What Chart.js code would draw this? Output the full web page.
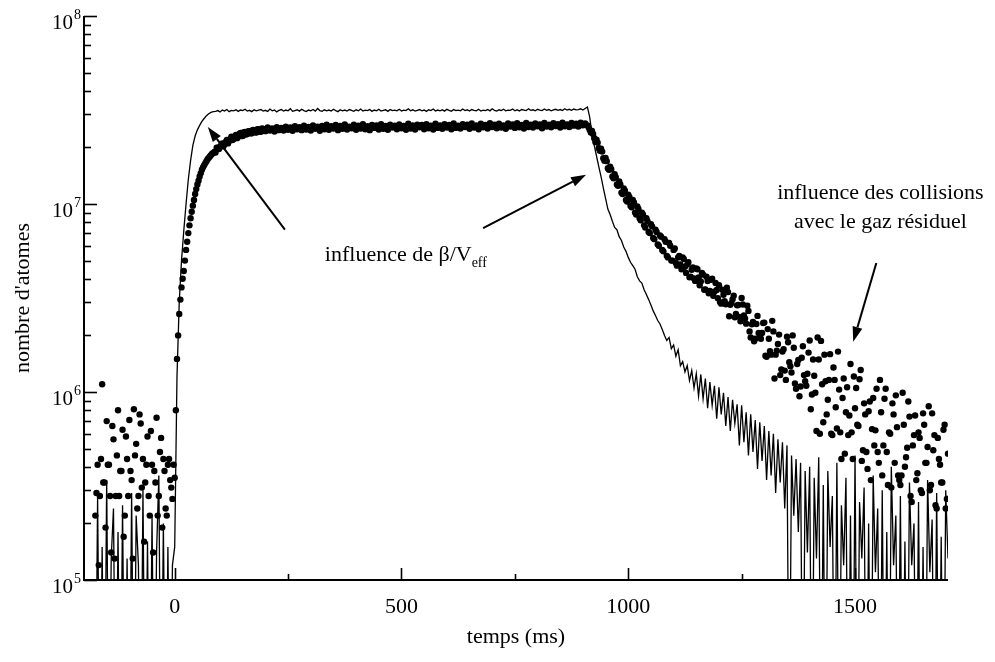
<!DOCTYPE html>
<html>
<head>
<meta charset="utf-8">
<script src="https://cdn.jsdelivr.net/npm/chart.js@4.4.0/dist/chart.umd.min.js"></script>
<style>
    html, body { margin: 0; padding: 0; background: #fff; }
    #wrap { width: 995px; height: 662px; }
</style>
</head>
<body>
<div id="wrap"><canvas id="myChart" width="995" height="662"></canvas></div>
<script>
// sampling of the recorded curves (ms)
const firstTime = -175;
const timeStep = 5;

// solid line, one value every 5 ms from -175 ms (1e4 = nothing counted, below the axis)
const lineValues = [
    1e4, 2.8e5, 1e4, 1.5e5, 1e4, 3.4e5, 1e4, 1.3e5, 2.4e5, 1e4, 1.8e5, 1e4, 2.5e5, 1e4, 1.3e5, 1e4, 2.9e5, 1e4, 2.2e5, 1.2e5,
    1e4, 3e5, 1e4, 1.6e5, 1e4, 2.2e5, 1e4, 1.4e5, 3.6e5, 1e4, 2e5, 1e4, 1.5e5, 1e4, 1.2e5,
    1.5e5, 12e5, 30e5, 50e5, 72e5, 100e5, 135e5, 170e5, 205e5, 230e5, 248e5, 262e5, 275e5, 285e5, 295e5, 302e5, 307e5, 310e5,
    311e5, 314e5, 309e5, 316e5, 312e5, 318e5, 310e5, 315e5, 313e5, 317e5,
    311e5, 316e5, 314e5, 319e5, 312e5, 315e5, 310e5, 317e5, 313e5, 316e5,
    318e5, 312e5, 315e5, 311e5, 320e5, 313e5, 316e5, 309e5, 315e5, 318e5,
    312e5, 316e5, 313e5, 321e5, 311e5, 314e5, 317e5, 312e5, 319e5, 314e5,
    310e5, 316e5, 313e5, 318e5, 312e5, 322e5, 314e5, 311e5, 317e5, 313e5,
    316e5, 312e5, 319e5, 314e5, 310e5, 317e5, 313e5, 316e5, 312e5, 318e5,
    315e5, 311e5, 317e5, 313e5, 320e5, 312e5, 316e5, 314e5, 318e5, 311e5,
    316e5, 313e5, 319e5, 312e5, 315e5, 317e5, 311e5, 318e5, 314e5, 316e5,
    313e5, 319e5, 312e5, 316e5, 314e5, 321e5, 313e5, 317e5, 312e5, 315e5,
    318e5, 313e5, 316e5, 311e5, 317e5, 314e5, 320e5, 312e5, 316e5, 313e5,
    317e5, 312e5, 319e5, 315e5, 311e5, 318e5, 314e5, 316e5, 313e5, 320e5,
    314e5, 317e5, 312e5, 318e5, 315e5, 313e5, 319e5, 312e5, 316e5, 314e5,
    318e5, 313e5, 321e5, 315e5, 312e5, 317e5, 314e5, 319e5, 313e5, 316e5,
    315e5, 320e5, 313e5, 317e5, 312e5, 318e5, 316e5, 314e5, 321e5, 315e5,
    317e5, 313e5, 319e5, 316e5, 314e5, 320e5, 315e5, 318e5, 313e5, 317e5,
    319e5, 315e5, 318e5, 314e5, 321e5, 316e5, 319e5, 315e5, 320e5, 317e5,
    318e5, 321e5, 316e5, 322e5,
    328e5, 290e5, 235e5, 205e5, 180e5, 158e5, 140e5, 122e5, 107e5, 94e5,
    88e5, 81e5, 75e5, 73e5, 67e5, 64e5, 59e5, 56e5, 52e5, 49e5,
    47e5, 45e5, 41e5, 39e5, 38e5, 35e5, 33e5, 31e5, 29e5, 27e5,
    25.5e5, 24e5,
    23e5, 21.5e5, 20e5, 18.8e5, 19.5e5, 17e5, 17.8e5, 15.5e5, 16.8e5, 13.8e5,
    14.5e5, 12.8e5, 13.8e5, 11.5e5, 13e5, 10.5e5, 12.5e5, 9.5e5, 12.4e5, 9.2e5,
    11.8e5, 8.2e5, 11.3e5, 8.5e5, 10.8e5, 7.2e5, 10.6e5, 7.6e5, 9.9e5, 6.6e5,
    9.4e5, 6.2e5, 9.1e5, 6.8e5, 8.6e5, 5.2e5, 8.5e5, 5.4e5, 7.8e5, 4.6e5,
    7.6e5, 4.8e5, 7.1e5, 3.9e5, 6.9e5, 4.3e5, 6.6e5, 3.4e5, 6.2e5, 3.6e5,
    6e5, 2.9e5, 5.6e5, 3.3e5, 5.4e5, 2.4e5, 5.2e5, 1e4, 4.6e5, 2.2e5,
    4.4e5, 1.8e5, 4.2e5, 1e4, 3.8e5,
    1.4e5, 4e5, 1e4, 3.5e5, 1.3e5, 4.5e5, 1e4, 3.2e5, 1e4, 3.8e5,
    1.5e5, 2.8e5, 1e4, 4.2e5, 1e4, 2.5e5, 1.2e5, 3.5e5, 1e4, 2.2e5,
    1e4, 4.6e5, 1e4, 2.6e5, 1.3e5, 3.1e5, 1e4, 2e5, 1e4, 3.6e5,
    1.1e5, 2.4e5, 1e4, 3e5, 1e4, 1.8e5, 1e4, 4e5, 1.2e5, 2.2e5,
    1e4, 2.8e5, 1e4, 1.6e5, 1e4, 3.3e5, 1.2e5, 2e5, 1e4, 2.6e5,
    1e4, 1.5e5, 1e4, 3.4e5, 1.1e5, 2.1e5, 1e4, 2.9e5, 1e4, 1.7e5,
    1e4, 3e5, 1.3e5
];

// dots, same 5 ms sampling
const dotValues = [
    2.2e5, 4.1e5, 2.8e5, 11e5, 3.3e5, 7e5, 4.1e5, 1.4e5, 5.6e5, 2.8e5,
    8e5, 3.8e5, 6.3e5, 2.2e5, 4.4e5, 7.1e5, 3.4e5, 8.1e5, 5.3e5, 2.8e5,
    6.8e5, 4.4e5, 3.3e5, 5.8e5, 2.2e5, 4.1e5, 3.8e5, 7.3e5, 2.8e5, 5.7e5,
    4.4e5, 2.4e5, 4.1e5, 3.4e5, 2.7e5,
    3.5e5, 15e5, 26e5, 36e5, 44e5, 57e5, 70e5, 84e5, 98e5, 113e5, 127e5, 140e5, 152e5, 161e5, 169e5, 176e5, 182e5, 187e5,
    188e5, 199e5, 201e5, 210e5, 208e5, 219e5, 216e5, 228e5, 222e5, 233e5,
    228e5, 239e5, 230e5, 242e5, 236e5, 244e5, 238e5, 247e5, 240e5, 249e5,
    242e5, 251e5, 244e5, 255e5, 246e5, 252e5, 243e5, 256e5, 247e5, 254e5,
    246e5, 258e5, 248e5, 255e5, 245e5, 259e5, 250e5, 256e5, 247e5, 261e5,
    249e5, 257e5, 246e5, 262e5, 251e5, 258e5, 245e5, 260e5, 250e5, 264e5,
    248e5, 259e5, 252e5, 263e5, 247e5, 260e5, 251e5, 265e5, 249e5, 258e5,
    253e5, 264e5, 248e5, 261e5, 252e5, 266e5, 250e5, 259e5, 247e5, 263e5,
    254e5, 262e5, 249e5, 266e5, 251e5, 260e5, 248e5, 264e5, 255e5, 261e5,
    250e5, 265e5, 253e5, 260e5, 248e5, 267e5, 252e5, 262e5, 249e5, 264e5,
    256e5, 263e5, 250e5, 266e5, 253e5, 261e5, 249e5, 267e5, 254e5, 262e5,
    251e5, 266e5, 255e5, 263e5, 250e5, 268e5, 254e5, 261e5, 252e5, 266e5,
    257e5, 264e5, 251e5, 268e5, 255e5, 262e5, 250e5, 267e5, 256e5, 263e5,
    252e5, 269e5, 257e5, 264e5, 253e5, 267e5, 255e5, 262e5, 251e5, 268e5,
    258e5, 265e5, 254e5, 269e5, 256e5, 263e5, 252e5, 270e5, 257e5, 264e5,
    255e5, 268e5, 259e5, 265e5, 253e5, 270e5, 258e5, 264e5, 256e5, 269e5,
    260e5, 266e5, 255e5, 271e5, 259e5, 265e5, 257e5, 270e5, 261e5, 267e5,
    258e5, 271e5, 262e5, 268e5,
    262e5, 248e5, 245e5, 224e5, 220e5, 198e5, 197e5, 175e5, 176e5, 155e5,
    158e5, 140e5, 144e5, 127e5, 132e5, 115e5, 121e5, 105e5, 112e5, 98e5,
    105e5, 90e5, 97e5, 84e5, 90e5, 77e5, 84e5, 71e5, 78e5, 66e5,
    73e5, 61e5, 68e5, 57e5, 65e5, 53e5, 62e5, 50e5,
    57e5, 48.6e5, 52e5, 47.7e5, 52e5, 46.3e5, 47.6e5, 40.8e5, 44.7e5, 40.2e5,
    45.4e5, 40.7e5, 38.7e5, 42.1e5, 35.1e5, 38.9e5, 34.5e5, 40e5, 34.2e5, 34.9e5,
    37e5, 29.5e5, 32.9e5, 29.3e5, 34e5, 29.1e5, 31.1e5, 25e5, 28.9e5, 25.1e5,
    31.6e5, 25.5e5, 23.1e5, 27e5, 19.5e5, 23.6e5, 19.2e5, 25.4e5, 19.6e5, 20.6e5,
    23.4e5, 15.4e5, 19.2e5, 15.8e5, 21e5, 15.8e5, 18e5, 12.3e5, 16.4e5, 13e5,
    19.7e5, 14.4e5, 12.7e5, 17.2e5, 10.4e5, 14.8e5, 10.7e5, 17.5e5, 11.4e5, 12.5e5,
    18.8e5, 9.7e5, 12.2e5, 6.2e5, 14.9e5, 18.7e5, 6.9e5, 11.4e5, 9.1e5, 15.9e5,
    5.9e5, 11.6e5, 6.4e5, 10.3e5, 4.4e5, 11.8e5, 7.8e5, 5.9e5, 14.1e5, 4.4e5,
    8.2e5, 6.7e5, 11.7e5, 4.3e5, 8.7e5, 4.8e5, 7.9e5, 3.4e5, 9.3e5, 6.25e5,
    4.8e5, 11.6e5, 3.6e5, 9.2e5, 4.8e5, 6.1e5, 3.1e5, 7.6e5, 9.6e5, 3.6e5,
    3.2e5, 9.9e5, 4e5, 5.05e5, 7.4e5, 2.6e5, 5.9e5, 3.4e5, 6.1e5, 3e5,
    7.7e5, 4.2e5, 5.1e5, 3e5, 7.7e5, 5.9e5, 2.4e5, 4.4e5, 3.3e5, 6.3e5,
    2.4e5, 4.7e5
];

// extra dots shifted by half a step: before and during the loading, then during the decay
const earlyDotStart = -172.5;
const earlyDotValues = [
    2.9e5, 1.2e5, 4.4e5, 3.3e5, 1.9e5, 4.1e5, 2.8e5, 6.6e5, 1.3e5, 4.6e5,
    2.8e5, 3.8e5, 1.7e5, 5.8e5, 2.8e5, 3.8e5, 1.3e5, 4.6e5, 2.4e5, 7.6e5,
    3.1e5, 1.6e5, 4.1e5, 2.8e5, 6.2e5, 1.4e5, 3.3e5, 2.2e5, 4.8e5, 1.9e5,
    3.8e5, 2.2e5, 4.4e5, 3.1e5, 4.1e5,
    8e5, 20e5, 31e5, 40e5, 50e5, 63e5, 77e5, 91e5, 105e5, 120e5,
    133e5, 146e5, 157e5, 165e5, 173e5, 179e5, 185e5, 189e5,
    199e5, 196e5, 206e5, 203e5, 214e5, 210e5, 222e5, 219e5, 229e5, 224e5,
    236e5, 230e5, 241e5, 234e5, 244e5, 238e5, 248e5, 241e5, 250e5, 243e5,
    252e5, 245e5
];
const tailDotStart = 912.5;
const tailDotValues = [
    256e5, 240e5, 236e5, 214e5, 212e5, 192e5, 190e5, 170e5, 169e5, 152e5,
    153e5, 137e5, 139e5, 125e5, 127e5, 113e5, 118e5, 103e5, 109e5, 96e5,
    102e5, 88e5, 94e5, 82e5, 88e5, 75e5, 81e5, 70e5, 76e5, 65e5,
    71e5, 60e5, 67e5, 56e5, 63e5, 52e5, 60e5, 50e5, 58e5, 47e5,
    53e5, 45e5, 51e5, 43e5, 49e5, 41e5, 46e5, 39e5, 45e5, 37e5,
    43e5, 35e5, 41e5, 33.5e5, 39.5e5, 32.5e5, 38e5, 31.5e5,
    30e5, 35e5, 30.4e5, 35.9e5, 25.3e5, 29.7e5, 32.5e5, 26e5, 29e5, 23.8e5,
    29.2e5, 24.6e5, 28.8e5, 21e5, 22.9e5, 18.6e5, 23e5, 20.6e5, 19.2e5, 23.3e5,
    15.6e5, 21.6e5, 16.5e5, 23.9e5, 11.8e5, 16.6e5, 20.2e5, 13.2e5, 16.9e5, 11.6e5,
    18.4e5, 13.7e5, 20e5, 11.1e5, 14.1e5, 9.5e5, 15.2e5, 12.3e5, 10.8e5, 16.2e5,
    8.1e5, 14.9e5, 9.9e5, 19.5e5, 6e5, 11e5, 15.8e5, 7.6e5, 11.6e5, 6e5,
    13.5e5, 8.3e5, 16.4e5, 6.1e5, 9.3e5, 4.7e5, 10.6e5, 7.5e5, 6.1e5, 12.1e5,
    10.5e5, 6.6e5, 13.1e5, 4.9e5, 7.6e5, 3.9e5, 8.9e5, 6.35e5, 5.2e5, 10.4e5,
    4.2e5, 7.8e5, 5.2e5, 10.4e5, 3.2e5, 6e5, 8.7e5, 4.2e5, 6.5e5, 3.4e5,
    3.6e5, 6.7e5, 4.5e5, 8.9e5, 2.8e5, 5.2e5, 7.5e5, 3.7e5, 5.7e5, 2.9e5,
    6.7e5, 4.2e5, 8.4e5, 3.2e5, 4.9e5, 2.5e5, 5.7e5, 4.1e5, 3.3e5, 6.7e5,
    2.7e5
];

// axes
const xTickValues = [0, 500, 1000, 1500];
const xMinorTicks = [250, 750, 1250];
const yDecades = [5, 6, 7, 8];

// annotations (ms, atoms)
const arrowTails = [[243, 7.3e6], [680, 7.45e6], [1547, 4.85e6]];
const arrowTips = [[73, 2.57e7], [907, 1.43e7], [1496, 1.85e6]];
const betaNote = ['influence de β/V', 'eff'];
const betaNoteAt = [331, 4.98e6];
const gasNote = ['influence des collisions', 'avec le gaz résiduel'];
const gasNoteAt = [[1556, 1.06e7], [1556, 7.45e6]];

const serif = "'Liberation Serif', 'Times New Roman', serif";

function toPoints(start, values) {
    let points = [];
    for (let i = 0; i < values.length; i++) {
        points.push({ x: start + i * timeStep, y: values[i] });
    }
    return points;
}

let linePoints = toPoints(firstTime, lineValues);
let dotPoints = toPoints(firstTime, dotValues)
    .concat(toPoints(earlyDotStart, earlyDotValues))
    .concat(toPoints(tailDotStart, tailDotValues));

function drawArrow(ctx, x1, y1, x2, y2) {
    let angle = Math.atan2(y2 - y1, x2 - x1);
    let headLength = 15;
    let headWidth = 5;
    let bx = x2 - headLength * Math.cos(angle);
    let by = y2 - headLength * Math.sin(angle);
    ctx.beginPath();
    ctx.moveTo(x1, y1);
    ctx.lineTo(bx, by);
    ctx.stroke();
    ctx.beginPath();
    ctx.moveTo(x2, y2);
    ctx.lineTo(bx + headWidth * Math.sin(angle), by - headWidth * Math.cos(angle));
    ctx.lineTo(bx - headWidth * Math.sin(angle), by + headWidth * Math.cos(angle));
    ctx.closePath();
    ctx.fill();
}

const axisMarks = {
    id: 'axisMarks',
    afterDraw(chart) {
        const ctx = chart.ctx;
        const area = chart.chartArea;
        const xs = chart.scales.x;
        const ys = chart.scales.y;
        ctx.save();
        ctx.strokeStyle = '#000';
        ctx.fillStyle = '#000';

        // axis lines
        ctx.lineWidth = 2;
        ctx.beginPath();
        ctx.moveTo(area.left, area.top);
        ctx.lineTo(area.left, area.bottom);
        ctx.lineTo(area.right, area.bottom);
        ctx.stroke();

        // y ticks, pointing inwards
        ctx.lineWidth = 1.6;
        for (let d = 0; d < yDecades.length; d++) {
            for (let m = 1; m <= 9; m++) {
                if (d == yDecades.length - 1 && m > 1) break;
                let py = Math.round(ys.getPixelForValue(m * Math.pow(10, yDecades[d]))) + 0.5;
                ctx.beginPath();
                ctx.moveTo(area.left, py);
                ctx.lineTo(area.left + (m == 1 ? 13 : 7), py);
                ctx.stroke();
            }
        }

        // x ticks, pointing upwards
        let allX = xTickValues.concat(xMinorTicks);
        for (let i = 0; i < allX.length; i++) {
            let px = Math.round(xs.getPixelForValue(allX[i])) + 0.5;
            let len = xTickValues.includes(allX[i]) ? 12 : 6;
            ctx.beginPath();
            ctx.moveTo(px, area.bottom);
            ctx.lineTo(px, area.bottom - len);
            ctx.stroke();
        }

        // y labels as 10 with exponent
        for (let d = 0; d < yDecades.length; d++) {
            let py = ys.getPixelForValue(Math.pow(10, yDecades[d]));
            ctx.font = '21px ' + serif;
            ctx.textAlign = 'right';
            ctx.textBaseline = 'alphabetic';
            ctx.fillText('10', area.left - 11, py + 13);
            ctx.font = '14px ' + serif;
            ctx.textAlign = 'left';
            ctx.fillText(String(yDecades[d]), area.left - 10, py + 3);
        }

        // arrows
        ctx.lineWidth = 2;
        for (let i = 0; i < arrowTails.length; i++) {
            drawArrow(ctx,
                xs.getPixelForValue(arrowTails[i][0]), ys.getPixelForValue(arrowTails[i][1]),
                xs.getPixelForValue(arrowTips[i][0]), ys.getPixelForValue(arrowTips[i][1]));
        }

        // notes
        ctx.font = '22px ' + serif;
        ctx.textAlign = 'left';
        let bx = xs.getPixelForValue(betaNoteAt[0]);
        let by = ys.getPixelForValue(betaNoteAt[1]);
        ctx.fillText(betaNote[0], bx, by);
        let w = ctx.measureText(betaNote[0]).width;
        ctx.font = '14px ' + serif;
        ctx.fillText(betaNote[1], bx + w, by + 6);

        ctx.font = '22px ' + serif;
        ctx.textAlign = 'center';
        for (let i = 0; i < gasNote.length; i++) {
            ctx.fillText(gasNote[i], xs.getPixelForValue(gasNoteAt[i][0]), ys.getPixelForValue(gasNoteAt[i][1]));
        }
        ctx.restore();
    }
};

new Chart(document.getElementById('myChart'), {
    type: 'scatter',
    data: {
        datasets: [{
            label: 'courbe',
            data: linePoints,
            showLine: true,
            borderColor: '#000',
            borderWidth: 1.3,
            pointRadius: 0,
            tension: 0
        }, {
            label: 'points',
            data: dotPoints,
            showLine: false,
            pointRadius: 3.2,
            pointBackgroundColor: '#000',
            pointBorderWidth: 0
        }]
    },
    options: {
        responsive: false,
        animation: false,
        devicePixelRatio: 1,
        layout: { padding: { top: 16, right: 47, left: 0, bottom: 0 } },
        plugins: {
            legend: { display: false },
            tooltip: { enabled: false }
        },
        scales: {
            x: {
                type: 'linear',
                min: -200,
                max: 1705,
                grid: { display: false },
                border: { display: false },
                ticks: {
                    font: { family: serif, size: 22 },
                    color: '#000',
                    padding: 6,
                    maxRotation: 0,
                    callback: (value) => String(value)
                },
                afterBuildTicks: (scale) => {
                    scale.ticks = xTickValues.map(v => ({ value: v }));
                },
                afterFit: (scale) => { scale.height = 82; },
                title: {
                    display: true,
                    text: 'temps (ms)',
                    font: { family: serif, size: 22 },
                    color: '#000',
                    padding: { top: 0, bottom: 12 }
                }
            },
            y: {
                type: 'logarithmic',
                min: 1e5,
                max: 1e8,
                grid: { display: false },
                border: { display: false },
                ticks: { display: false },
                afterFit: (scale) => { scale.width = 84; },
                title: {
                    display: true,
                    text: "nombre d'atomes",
                    font: { family: serif, size: 22 },
                    color: '#000',
                    padding: { top: 10, bottom: 0 }
                }
            }
        }
    },
    plugins: [axisMarks]
});
</script>
</body>
</html>
